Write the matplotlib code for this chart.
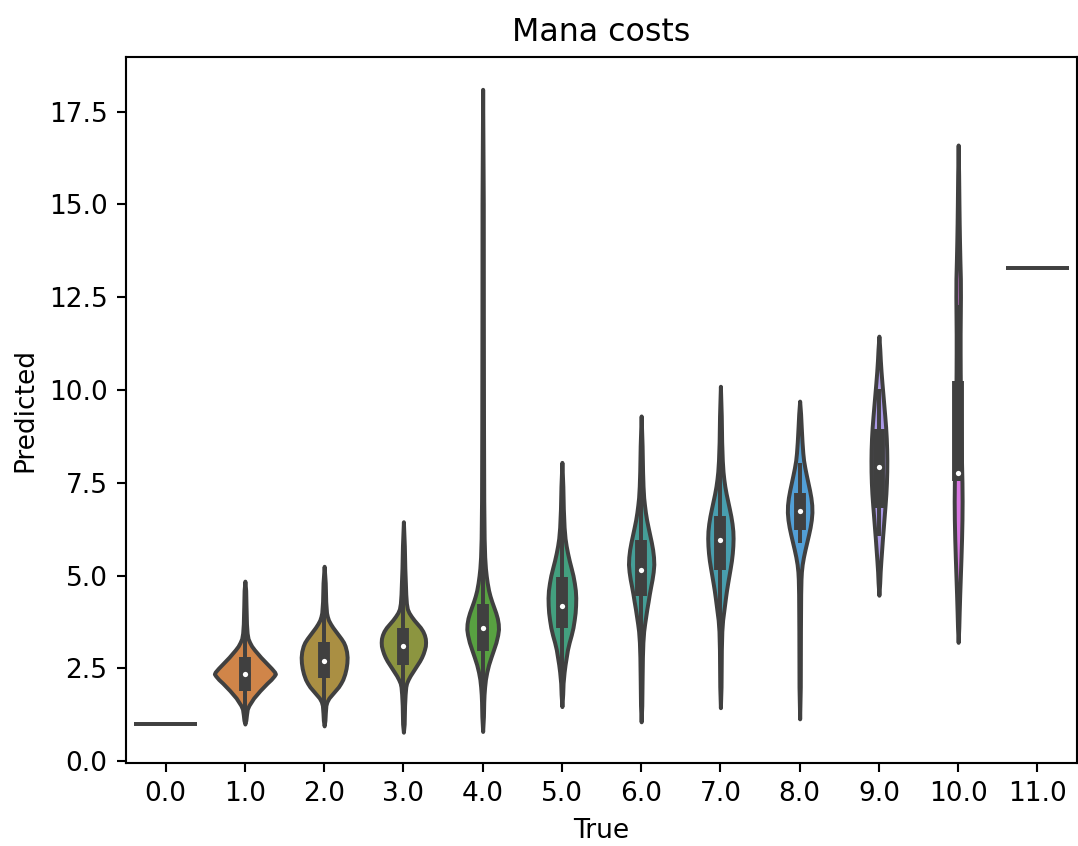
import colorsys
import numpy as np
import matplotlib
matplotlib.use("Agg")
import matplotlib.pyplot as plt
import seaborn as sns

# categories on the x axis (true mana cost)
categories = [0.0, 1.0, 2.0, 3.0, 4.0, 5.0, 6.0, 7.0, 8.0, 9.0, 10.0, 11.0]

# categories with only one prediction -> drawn as a flat line
single_cats = [0, 11]
single_vals = [1.0, 13.28]

# violin outlines: heights and half widths (category units)
violin_cats = [1, 2, 3, 4, 5, 6, 7, 8, 9, 10]
violin_y = [
    [1.0, 1.1, 1.25, 1.4, 1.5, 1.6, 1.7, 1.8, 1.9, 2.0, 2.1, 2.2, 2.3, 2.35, 2.4, 2.5, 2.6, 2.7,
     2.8, 2.9, 3.0, 3.1, 3.2, 3.3, 3.45, 3.7, 4.2, 4.6, 4.85],
    [0.95, 1.1, 1.3, 1.5, 1.6, 1.7, 1.8, 1.9, 2.0, 2.1, 2.2, 2.35, 2.5, 2.65, 2.8, 2.95, 3.1, 3.2,
     3.3, 3.4, 3.5, 3.6, 3.7, 3.8, 3.9, 4.0, 4.3, 4.8, 5.25],
    [0.78, 1.0, 1.5, 1.8, 2.0, 2.1, 2.2, 2.3, 2.4, 2.5, 2.6, 2.7, 2.8, 2.9, 3.0, 3.1, 3.2, 3.3,
     3.4, 3.5, 3.6, 3.7, 3.8, 3.9, 4.0, 4.1, 4.25, 4.5, 4.8, 5.2, 5.8, 6.45],
    [0.8, 1.2, 1.6, 1.8, 2.0, 2.2, 2.4, 2.6, 2.8, 3.0, 3.2, 3.4, 3.55, 3.7, 3.85, 4.0, 4.15, 4.3,
     4.45, 4.6, 4.8, 5.0, 5.2, 5.5, 6.0, 7.0, 9.0, 12.0, 15.0, 18.1],
    [1.47, 1.8, 2.1, 2.4, 2.6, 2.8, 3.0, 3.2, 3.4, 3.6, 3.8, 4.0, 4.2, 4.4, 4.6, 4.8, 5.0, 5.2,
     5.4, 5.6, 5.8, 6.0, 6.3, 6.8, 7.4, 8.05],
    [1.06, 1.5, 2.2, 2.8, 3.2, 3.5, 3.7, 3.9, 4.1, 4.3, 4.5, 4.7, 4.9, 5.1, 5.3, 5.5, 5.7, 5.9,
     6.1, 6.3, 6.5, 6.7, 6.9, 7.1, 7.4, 7.8, 8.5, 9.3],
    [1.44, 2.0, 3.0, 3.5, 3.8, 4.0, 4.2, 4.4, 4.6, 4.8, 5.0, 5.2, 5.4, 5.6, 5.8, 6.0, 6.2, 6.4,
     6.6, 6.8, 7.0, 7.2, 7.4, 7.6, 7.8, 8.1, 8.6, 9.3, 10.1],
    [1.14, 2.0, 3.5, 4.5, 4.9, 5.1, 5.3, 5.5, 5.7, 5.9, 6.1, 6.3, 6.5, 6.7, 6.9, 7.1, 7.3, 7.5,
     7.7, 7.9, 8.1, 8.3, 8.6, 9.0, 9.35, 9.7],
    [4.47, 4.8, 5.1, 5.4, 5.7, 6.0, 6.3, 6.6, 6.9, 7.2, 7.5, 7.8, 8.1, 8.4, 8.7, 9.0, 9.3, 9.6,
     9.9, 10.2, 10.5, 10.8, 11.1, 11.45],
    [3.2, 3.6, 4.0, 4.5, 5.0, 5.5, 6.0, 6.5, 7.0, 7.5, 8.0, 8.5, 9.0, 9.5, 10.0, 10.5, 11.0, 11.5,
     12.0, 12.5, 13.0, 13.5, 14.0, 14.5, 15.0, 15.8, 16.6],
]
violin_w = [
    [0.0, 0.012, 0.02, 0.03, 0.05, 0.08, 0.11, 0.15, 0.19, 0.235, 0.28, 0.33, 0.37, 0.385, 0.375,
     0.335, 0.29, 0.245, 0.2, 0.16, 0.12, 0.085, 0.06, 0.04, 0.028, 0.02, 0.014, 0.01, 0.0],
    [0.0, 0.01, 0.015, 0.022, 0.035, 0.06, 0.1, 0.14, 0.18, 0.21, 0.235, 0.26, 0.277, 0.287, 0.29,
     0.283, 0.265, 0.245, 0.215, 0.18, 0.145, 0.11, 0.08, 0.055, 0.04, 0.03, 0.02, 0.014, 0.0],
    [0.0, 0.01, 0.015, 0.022, 0.03, 0.04, 0.06, 0.085, 0.115, 0.145, 0.175, 0.205, 0.23, 0.25,
     0.265, 0.277, 0.28, 0.277, 0.265, 0.245, 0.215, 0.175, 0.135, 0.1, 0.07, 0.05, 0.038, 0.03,
     0.025, 0.018, 0.012, 0.0],
    [0.0, 0.01, 0.014, 0.018, 0.025, 0.035, 0.052, 0.075, 0.105, 0.137, 0.168, 0.19, 0.2, 0.197,
     0.185, 0.165, 0.14, 0.115, 0.093, 0.075, 0.058, 0.045, 0.035, 0.026, 0.019, 0.014, 0.011,
     0.009, 0.008, 0.0],
    [0.0, 0.01, 0.015, 0.028, 0.04, 0.055, 0.07, 0.092, 0.118, 0.14, 0.155, 0.167, 0.173, 0.175,
     0.17, 0.157, 0.14, 0.117, 0.093, 0.072, 0.054, 0.04, 0.028, 0.018, 0.012, 0.0],
    [0.0, 0.008, 0.012, 0.016, 0.022, 0.032, 0.044, 0.058, 0.072, 0.088, 0.103, 0.12, 0.138, 0.152,
     0.16, 0.156, 0.145, 0.128, 0.108, 0.088, 0.069, 0.054, 0.042, 0.032, 0.024, 0.018, 0.012, 0.0],
    [0.0, 0.008, 0.012, 0.018, 0.028, 0.04, 0.052, 0.064, 0.077, 0.092, 0.108, 0.124, 0.139, 0.15,
     0.157, 0.16, 0.157, 0.147, 0.132, 0.113, 0.093, 0.073, 0.056, 0.043, 0.033, 0.024, 0.016,
     0.011, 0.0],
    [0.0, 0.008, 0.01, 0.013, 0.017, 0.022, 0.032, 0.048, 0.068, 0.09, 0.112, 0.132, 0.147, 0.155,
     0.153, 0.142, 0.125, 0.105, 0.085, 0.066, 0.05, 0.04, 0.03, 0.02, 0.012, 0.0],
    [0.0, 0.01, 0.016, 0.025, 0.035, 0.045, 0.056, 0.067, 0.078, 0.088, 0.095, 0.099, 0.1, 0.098,
     0.093, 0.085, 0.074, 0.062, 0.05, 0.038, 0.027, 0.018, 0.011, 0.0],
    [0.0, 0.008, 0.013, 0.02, 0.028, 0.036, 0.043, 0.048, 0.05, 0.048, 0.043, 0.037, 0.033, 0.03,
     0.028, 0.026, 0.025, 0.025, 0.027, 0.029, 0.028, 0.022, 0.017, 0.013, 0.01, 0.006, 0.0],
]

# inner box: quartiles, medians and whiskers
q1 = [1.9, 2.25, 2.6, 2.96, 3.6, 4.46, 5.14, 6.22, 6.82, 7.55]
q2 = [2.36, 2.69, 3.1, 3.6, 4.18, 5.16, 5.95, 6.73, 7.93, 7.77]
q3 = [2.8, 3.2, 3.6, 4.24, 4.97, 5.95, 6.6, 7.23, 8.95, 10.24]
whisk_lo = [1.3, 1.2, 1.1, 1.0, 1.7, 2.3, 3.0, 5.87, 6.06, 7.55]
whisk_hi = [4.1, 4.6, 5.1, 6.1, 7.0, 8.2, 8.8, 8.04, 10.03, 12.3]

palette = [sns.desaturate(c, .75) for c in sns.color_palette("husl", len(categories))]
lum = min(colorsys.rgb_to_hls(*c)[1] for c in palette) * .6
gray = (lum, lum, lum)

fig = plt.figure(figsize=(1078 / 190, 846 / 190), dpi=190)
ax = fig.add_axes([0.1169, 0.0981, 0.8822, 0.8345])

stats = []
for ys, ws, m in zip(violin_y, violin_w, q2):
    stats.append(dict(coords=np.array(ys), vals=np.array(ws), mean=m, median=m,
                      min=ys[0], max=ys[-1]))
widths = [2 * max(w) for w in violin_w]
parts = ax.violin(stats, positions=violin_cats, widths=widths,
                  showmeans=False, showextrema=False, showmedians=False)
for body, k in zip(parts["bodies"], violin_cats):
    body.set_facecolor(palette[k])
    body.set_edgecolor(gray)
    body.set_linewidth(1.5)
    body.set_alpha(1)
    body.set_joinstyle("round")

ax.vlines(violin_cats, whisk_lo, whisk_hi, color=gray, lw=1.5, zorder=2)
ax.vlines(violin_cats, q1, q3, color=gray, lw=4.5, zorder=2)
ax.scatter(violin_cats, q2, s=9, color="white", edgecolor=gray, zorder=3)

ax.hlines(single_vals, [c - 0.4 for c in single_cats], [c + 0.4 for c in single_cats],
          color=gray, lw=1.5)

ax.set_xticks(range(len(categories)))
ax.set_xticklabels([str(c) for c in categories])
ax.set_xlim(-0.5, len(categories) - 0.5)
ax.set_ylim(-0.05, 18.97)
ax.set_xlabel("True")
ax.set_ylabel("Predicted")
ax.set_title("Mana costs")

fig.savefig("out.png", dpi=190)
